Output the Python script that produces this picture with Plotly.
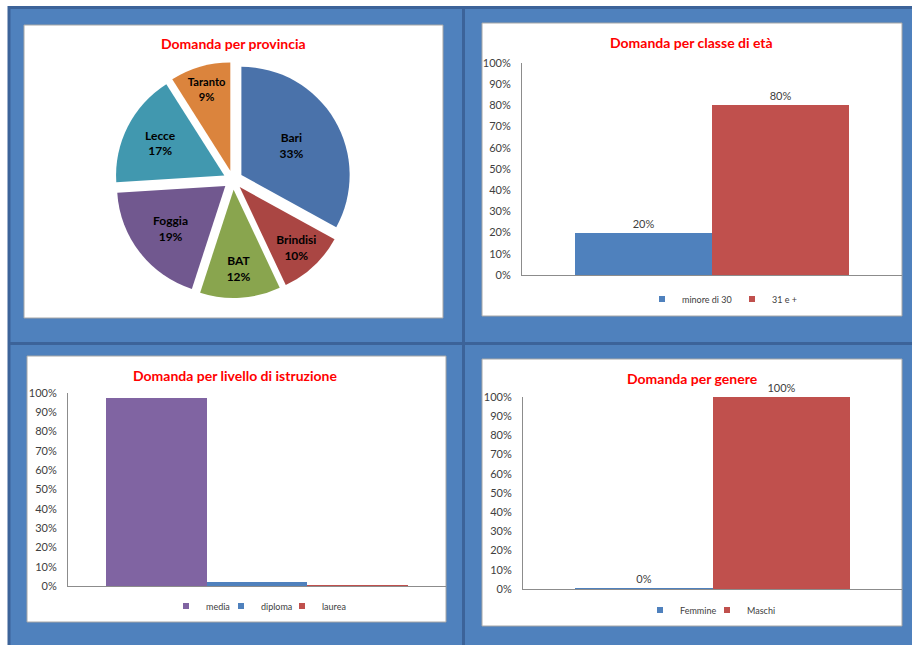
import plotly.graph_objects as go

W, H = 912, 645


def px(x):
    return x / W


def py(y):
    return 1 - y / H


# ---------------- data ----------------
prov_labels = ["Bari", "Brindisi", "BAT", "Foggia", "Lecce", "Taranto"]
prov_values = [33, 10, 12, 19, 17, 9]
prov_colors = ["#4A72AA", "#AA4643", "#89A54E", "#71588F", "#4198AF", "#DB843D"]

eta_cats = ["minore di 30", "31 e +"]
eta_values = [0.20, 0.80]
eta_colors = ["#4F81BD", "#C0504D"]

istr_cats = ["media", "diploma", "laurea"]
istr_values = [0.976, 0.02, 0.004]
istr_colors = ["#8064A2", "#4F81BD", "#C0504D"]

gen_cats = ["Femmine", "Maschi"]
gen_values = [0.003, 1.0]
gen_colors = ["#4F81BD", "#C0504D"]

y_ticks = [i / 10 for i in range(11)]

FONT = "Lato, 'Liberation Sans', sans-serif"
BLUE_BG = "#4F81BD"
DARK = "#3C6399"
AXIS = "#8C8C8C"
TXT = "#404040"

fig = go.Figure()

# ---------------- pie ----------------
fig.add_trace(go.Pie(
    labels=prov_labels, values=prov_values, sort=False, direction="clockwise",
    rotation=0, pull=[0.09] * len(prov_values),
    marker=dict(colors=prov_colors, line=dict(width=0)),
    texttemplate="<b>%{label}<br>%{percent:.0%}</b>", textposition="inside",
    insidetextorientation="horizontal",
    textfont=dict(family=FONT, size=12, color="#000000"),
    domain=dict(x=[px(40), px(426)], y=[py(298), py(62)]),
    showlegend=False, hoverinfo="label+percent",
))

legend_defs = {}
legend_count = [0]


def add_bars(cats, vals, colors, xa, ya, labels, sym_xs, leg_y):
    fig.add_trace(go.Bar(
        x=cats, y=vals, marker=dict(color=colors, line=dict(width=0)),
        xaxis=xa, yaxis=ya, showlegend=False,
        text=[f"{v:.0%}" for v in vals] if labels else None,
        textposition="outside" if labels else None,
        textfont=dict(family=FONT, size=11, color=TXT),
        cliponaxis=False,
    ))
    for c, col, sx in zip(cats, colors, sym_xs):
        legend_count[0] += 1
        name = "legend" if legend_count[0] == 1 else f"legend{legend_count[0]}"
        legend_defs[name] = dict(
            orientation="h", x=px(sx - 21), y=py(leg_y), xanchor="left",
            yanchor="middle", font=dict(family=FONT, size=9, color=TXT),
            bgcolor="rgba(0,0,0,0)", itemwidth=30)
        fig.add_trace(go.Scatter(
            x=[None], y=[None], mode="markers", name=c,
            marker=dict(symbol="square", size=6, color=col),
            xaxis=xa, yaxis=ya, legend=name, showlegend=True,
        ))


# legend square positions, shifted a little left of the reference squares
add_bars(eta_cats, eta_values, eta_colors, "x", "y", True, [663, 753], 299)
add_bars(istr_cats, istr_values, istr_colors, "x2", "y2", False, [187, 242, 303], 606)
add_bars(gen_cats, gen_values, gen_colors, "x3", "y3", True, [661, 728], 610)


def xax(dom, n, pad, anchor):
    return dict(domain=dom, anchor=anchor, range=[-0.5 - pad, n - 0.5 + pad],
                showticklabels=False, showline=True, linecolor=AXIS, linewidth=1,
                showgrid=False, zeroline=False, ticks="", fixedrange=True,
                automargin=False)


def yax(dom, anchor):
    return dict(domain=dom, anchor=anchor, range=[0, 1], tickvals=y_ticks,
                tickformat=".0%", showline=True, linecolor=AXIS, linewidth=1,
                showgrid=False, zeroline=False, ticks="", ticklabelstandoff=8,
                tickfont=dict(family=FONT, size=11, color=TXT), fixedrange=True,
                automargin=False)


# frame lines and panel boxes
shapes = [
    dict(type="rect", xref="paper", yref="paper", x0=0, x1=px(8), y0=0, y1=1,
         fillcolor="white", line=dict(width=0), layer="below"),
    dict(type="rect", xref="paper", yref="paper", x0=0, x1=1, y0=py(6), y1=1,
         fillcolor="white", line=dict(width=0), layer="below"),
    dict(type="line", xref="paper", yref="paper", x0=px(9), x1=px(9), y0=0, y1=py(6),
         line=dict(color=DARK, width=3), layer="below"),
    dict(type="line", xref="paper", yref="paper", x0=px(8), x1=1, y0=py(7.5), y1=py(7.5),
         line=dict(color=DARK, width=3), layer="below"),
    dict(type="line", xref="paper", yref="paper", x0=px(463.5), x1=px(463.5), y0=0, y1=py(7),
         line=dict(color=DARK, width=3), layer="below"),
    dict(type="line", xref="paper", yref="paper", x0=px(8), x1=1, y0=py(343.5), y1=py(343.5),
         line=dict(color=DARK, width=3), layer="below"),
]
for (x0, y0, x1, y1) in [(24, 25, 443, 318), (482, 23, 902, 316),
                         (27, 356, 446, 622), (482, 359, 902, 626)]:
    shapes.append(dict(type="rect", xref="paper", yref="paper",
                       x0=px(x0), x1=px(x1), y0=py(y1), y1=py(y0),
                       fillcolor="white", line=dict(color="#A6A6A6", width=1),
                       layer="below"))

titles = [("Domanda per provincia", 233, 44),
          ("Domanda per classe di età", 691, 42),
          ("Domanda per livello di istruzione", 235, 375),
          ("Domanda per genere", 692, 378)]
annotations = [dict(text=f"<b>{t}</b>", x=px(x), y=py(y), xref="paper", yref="paper",
                    xanchor="center", yanchor="middle", showarrow=False,
                    font=dict(family=FONT, size=14, color="#FF0000"))
               for t, x, y in titles]

fig.update_layout(
    width=W, height=H, autosize=False, margin=dict(l=0, r=0, t=0, b=0),
    paper_bgcolor=BLUE_BG, plot_bgcolor="rgba(0,0,0,0)",
    barmode="overlay", bargap=0,
    xaxis=xax([px(522), px(902)], 2, 0.382, "y"),
    yaxis=yax([py(275), py(63)], "x"),
    xaxis2=xax([px(68), px(446)], 3, 0.377, "y2"),
    yaxis2=yax([py(586), py(393)], "x2"),
    xaxis3=xax([px(523), px(902)], 2, 0.382, "y3"),
    yaxis3=yax([py(589), py(397)], "x3"),
    shapes=shapes, annotations=annotations,
    font=dict(family=FONT),
    **legend_defs,
)

fig.write_html("out.html")
